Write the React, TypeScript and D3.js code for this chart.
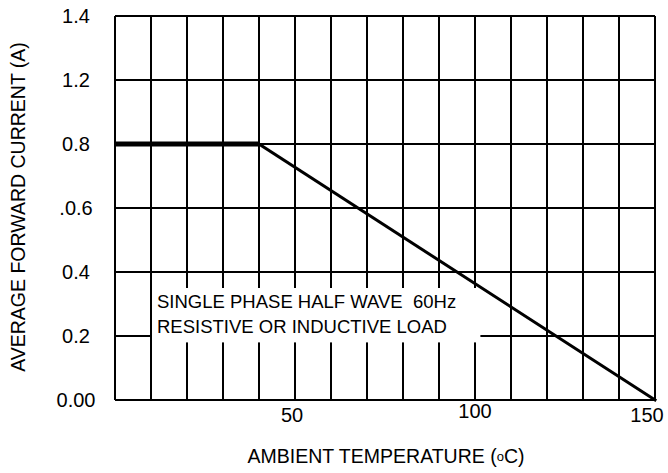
import React, { useEffect, useRef } from "react";
import * as d3 from "d3";

// derating curve: ambient temperature (C) vs average forward current (A)
const temps = [0, 40, 150];
const currents = [0.8, 0.8, 0];

// y grid values and the labels printed on them (the sheet skips 1.0)
const yTickValues = [0, 0.2, 0.4, 0.6, 0.8, 1.0, 1.2];
const yTickLabels = ["0.00", "0.2", "0.4", ".0.6", "0.8", "1.2", "1.4"];

const xGridValues = d3.range(0, 151, 10);
const xTickValues = [50, 100, 150];
const xTickLabels = ["50", "100", "150"];

const noteLines = ["SINGLE PHASE HALF WAVE  60Hz", "RESISTIVE OR INDUCTIVE LOAD"];

const FONT = "'Liberation Sans', Arial, Helvetica, sans-serif";

export default function App() {
  const ref = useRef<SVGSVGElement>(null);

  useEffect(() => {
    const svg = d3.select(ref.current);
    svg.selectAll("*").remove();

    const margin = { top: 16, right: 13, bottom: 73, left: 115 };
    const W = 668, H = 473;
    const w = W - margin.left - margin.right;
    const h = H - margin.top - margin.bottom;

    const x = d3.scaleLinear().domain([0, 150]).range([0, w]);
    const y = d3.scaleLinear().domain([0, 1.2]).range([h, 0]);

    const g = svg.append("g").attr("transform", `translate(${margin.left},${margin.top})`);

    // grid
    g.selectAll(".vgrid")
      .data(xGridValues)
      .join("line")
      .attr("x1", (d) => x(d))
      .attr("x2", (d) => x(d))
      .attr("y1", 0)
      .attr("y2", h)
      .attr("stroke", "#000")
      .attr("stroke-width", 2);

    g.selectAll(".hgrid")
      .data(yTickValues)
      .join("line")
      .attr("x1", 0)
      .attr("x2", w)
      .attr("y1", (d) => y(d))
      .attr("y2", (d) => y(d))
      .attr("stroke", "#000")
      .attr("stroke-width", 2);

    // note box blanks out the grid behind it
    g.append("rect")
      .attr("x", x(10) + 1)
      .attr("y", y(0.35))
      .attr("width", x(101.5) - x(10) - 1)
      .attr("height", y(0.18) - y(0.35))
      .attr("fill", "#fff");

    g.selectAll(".note")
      .data(noteLines)
      .join("text")
      .attr("x", x(10) + 6)
      .attr("y", (d, i) => y(0.35) + 20 + i * 25)
      .style("font-family", FONT)
      .style("font-size", "18.5px")
      .style("white-space", "pre")
      .text((d) => d);

    // curve: flat part is drawn heavier than the slope
    const pts = temps.map((t, i) => [x(t), y(currents[i])] as [number, number]);
    const line = d3.line();
    g.append("path")
      .attr("d", line(pts.slice(0, 2)))
      .attr("fill", "none")
      .attr("stroke", "#000")
      .attr("stroke-width", 5);
    g.append("path")
      .attr("d", line(pts.slice(1)))
      .attr("fill", "none")
      .attr("stroke", "#000")
      .attr("stroke-width", 3)
      .attr("stroke-linecap", "square");

    // y labels
    g.selectAll(".ylab")
      .data(yTickValues)
      .join("text")
      .attr("x", -39)
      .attr("y", (d) => y(d) + 7)
      .attr("text-anchor", "middle")
      .style("font-family", FONT)
      .style("font-size", "20px")
      .text((d, i) => yTickLabels[i]);

    // x labels (slightly off-centre on the original sheet)
    g.selectAll(".xlab")
      .data(xTickValues)
      .join("text")
      .attr("x", (d) => x(d) - (d === 150 ? 8 : d === 50 ? 3 : 0))
      .attr("y", (d) => h + (d === 100 ? 18 : 22))
      .attr("text-anchor", "middle")
      .style("font-family", FONT)
      .style("font-size", "20px")
      .text((d, i) => xTickLabels[i]);

    // axis titles
    const xt = g
      .append("text")
      .attr("x", 386 - margin.left)
      .attr("y", h + 63)
      .attr("text-anchor", "middle")
      .style("font-family", FONT)
      .style("font-size", "19.5px");
    xt.append("tspan").text("AMBIENT TEMPERATURE (");
    xt.append("tspan").style("font-size", "13px").attr("dy", -2).text("o");
    xt.append("tspan").attr("dy", 2).text("C)");

    g.append("text")
      .attr("transform", `translate(${25 - margin.left},${207 - margin.top}) rotate(-90)`)
      .attr("text-anchor", "middle")
      .style("font-family", FONT)
      .style("font-size", "19.5px")
      .text("AVERAGE FORWARD CURRENT (A)");
  }, []);

  return (
    <svg
      ref={ref}
      width={668}
      height={473}
      style={{ position: "absolute", left: 0, top: 0, background: "#fff" }}
    />
  );
}
